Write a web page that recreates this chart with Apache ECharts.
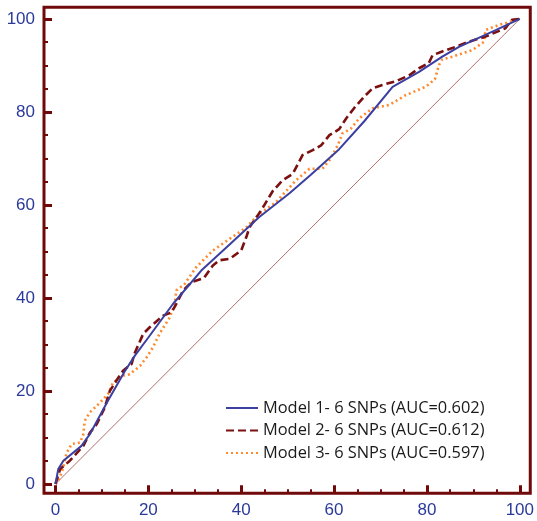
<!DOCTYPE html>
<html>
<head>
<meta charset="utf-8">
<script src="https://cdn.jsdelivr.net/npm/echarts@6/dist/echarts.min.js"></script>
<style>
  html, body { margin: 0; padding: 0; background: #ffffff; }
  #chart { width: 537px; height: 521px; }
</style>
</head>
<body>
<div id="chart"></div>
<script>
// ROC curves: 100-specificity (x) vs sensitivity (y), in percent
const majorTicks = [0, 20, 40, 60, 80, 100];
const minorTicks = [5, 10, 15, 25, 30, 35, 45, 50, 55, 65, 70, 75, 85, 90, 95];

const seriesNames = [
  'Model 1- 6 SNPs (AUC=0.602)',
  'Model 2- 6 SNPs (AUC=0.612)',
  'Model 3- 6 SNPs (AUC=0.597)'
];

const model1 = [
  [0, 0], [0.6, 3.2], [1.7, 5], [5.6, 8.2], [7.4, 10.7], [11.3, 17.9], [14.9, 24.2],
  [17.1, 27.6], [20, 31.5], [25.3, 38.7], [31.4, 45.9], [37.5, 51.5], [43.9, 57.4],
  [50.4, 62.5], [55, 66.5], [61.1, 72], [66.5, 78], [72.6, 85.4], [78.3, 88.6],
  [83.3, 91.9], [86.9, 94], [94.8, 97.6], [100, 100]
];

const model2 = [
  [0, 0], [1, 3.2], [3.1, 5], [6, 8.2], [7.4, 11], [8.9, 12.9], [10.6, 16.4], [11.7, 20],
  [13.1, 22.2], [14.6, 24.4], [16.4, 25.8], [17, 28], [18.9, 32.3], [20.3, 33.7],
  [23.2, 36.2], [25, 36.9], [26, 38.7], [27.5, 41.6], [29.3, 43.4], [32, 44.3],
  [33.9, 47], [35.3, 48.1], [37.5, 48.4], [40, 50.2], [41.1, 53.1], [41.8, 55.2],
  [43.6, 57.8], [45, 60], [46.8, 63], [48.9, 65.3], [51.1, 66.7], [53.2, 70.7],
  [55.4, 71.8], [57.2, 72.8], [59, 75], [61.1, 76.3], [62.6, 78.6], [64.3, 80.8],
  [66.5, 83.3], [68.3, 85.1], [70.4, 85.8], [73.3, 86.6], [76.2, 87.9], [78.3, 89.4],
  [80.4, 90.5], [81.2, 92.2], [83.3, 93], [86.2, 94], [89, 95.1], [92.6, 96.2],
  [96.9, 98], [98.3, 99.8], [100, 100]
];

const model3 = [
  [0, 0], [0.6, 0.6], [1.7, 3.5], [2.4, 6.7], [3.5, 8.6], [5.3, 8.9], [6, 10.7],
  [6.3, 13.6], [7.4, 15.4], [9.6, 17.5], [11.3, 19.3], [12.4, 21.8], [14.6, 23.3],
  [16, 23.6], [18.2, 25.4], [19.6, 27.2], [21, 29.4], [22.4, 32.3], [24.6, 35.8],
  [25.7, 38.7], [26, 41.6], [27.8, 43], [30.3, 46.6], [33.9, 50.2], [37.5, 52.7],
  [41.1, 55.2], [43.9, 58.1], [47.5, 60.6], [51.8, 65.3], [54.7, 67.8], [57.5, 67.8],
  [59, 69.6], [60.8, 72.8], [61.8, 75.4], [63.6, 76.4], [65.4, 78.6], [68.3, 80.8],
  [71.9, 81.5], [75.4, 83.6], [79.7, 85.4], [81.7, 87], [82.6, 90.1], [83.3, 91.3],
  [85.5, 91.9], [89.8, 93.3], [92.3, 95.1], [92.6, 97.6], [95.5, 98.7], [100, 100]
];

const chanceLine = [[0, 0], [100, 100]];

const AXIS_COLOR = '#700a0a';
const LABEL_COLOR = '#2b3a9a';

// axis extents reach a little past 0 and 100 so the frame sits outside the data
const X_MIN = -2.47, X_MAX = 102.25;
const Y_MIN = -2.0, Y_MAX = 102.5;

function valueAxis(min, max, position, major) {
  return {
    type: 'value',
    min: min,
    max: max,
    position: position,
    axisLine: { show: false, onZero: false },
    splitLine: { show: false },
    axisTick: {
      show: true,
      inside: true,
      length: major ? 8 : 4,
      customValues: major ? majorTicks : minorTicks,
      lineStyle: { color: AXIS_COLOR, width: major ? 3 : 2 }
    },
    axisLabel: major ? {
      show: true,
      customValues: majorTicks,
      color: LABEL_COLOR,
      fontSize: 17,
      fontFamily: 'Liberation Sans',
      margin: 9
    } : { show: false }
  };
}

const chart = echarts.init(document.getElementById('chart'), null, { renderer: 'canvas' });

chart.setOption({
  animation: false,
  backgroundColor: '#ffffff',
  grid: {
    left: 44, right: 5, top: 7.3, bottom: 27.7,
    show: true,
    borderColor: AXIS_COLOR,
    borderWidth: 3,
    backgroundColor: 'transparent'
  },
  xAxis: [
    valueAxis(X_MIN, X_MAX, 'bottom', true),
    valueAxis(X_MIN, X_MAX, 'bottom', false)
  ],
  yAxis: [
    valueAxis(Y_MIN, Y_MAX, 'left', true),
    valueAxis(Y_MIN, Y_MAX, 'left', false)
  ],
  legend: {
    orient: 'vertical',
    left: 225,
    top: 400,
    padding: 0,
    itemWidth: 32,
    itemHeight: 14,
    itemGap: 6.5,
    data: seriesNames,
    itemStyle: { opacity: 0 },
    textStyle: { color: '#1a1a1a', fontSize: 16.4, fontFamily: 'Open Sans' }
  },
  series: [
    {
      name: 'chance',
      type: 'line',
      data: chanceLine,
      symbol: 'none',
      silent: true,
      lineStyle: { color: 'rgba(140,40,40,0.75)', width: 0.9 },
      z: 1
    },
    {
      name: seriesNames[0],
      type: 'line',
      data: model1,
      symbol: 'none',
      lineStyle: { color: '#3b3fa0', width: 2 },
      itemStyle: { color: '#3b3fa0' },
      z: 4
    },
    {
      name: seriesNames[1],
      type: 'line',
      data: model2,
      symbol: 'none',
      lineStyle: { color: '#7b1010', width: 2.6, type: [8, 4] },
      itemStyle: { color: '#7b1010' },
      z: 3
    },
    {
      name: seriesNames[2],
      type: 'line',
      data: model3,
      symbol: 'none',
      lineStyle: { color: '#ff8a2e', width: 2.6, type: [2, 3] },
      itemStyle: { color: '#ff8a2e' },
      z: 2
    }
  ]
});
</script>
</body>
</html>
